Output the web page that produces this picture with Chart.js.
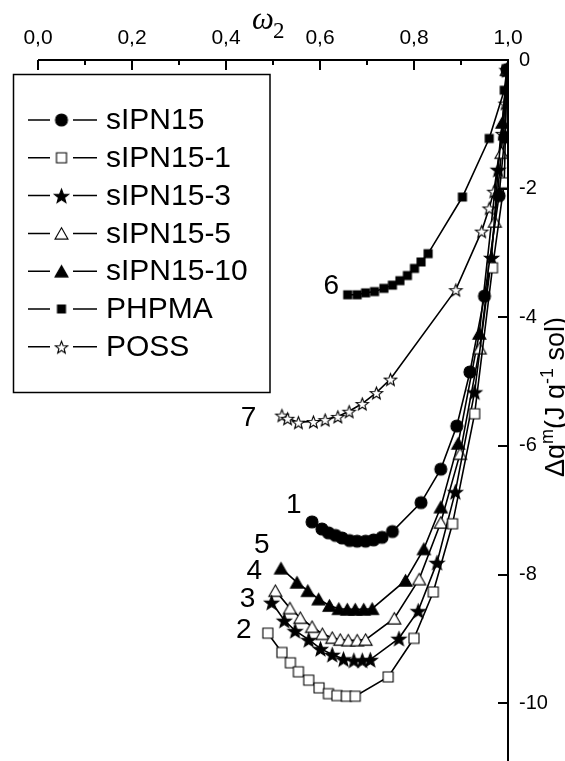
<!DOCTYPE html>
<html>
<head>
<meta charset="utf-8">
<title>Δg^m vs ω2</title>
<script src="https://cdn.jsdelivr.net/npm/chart.js@4.4.0/dist/chart.umd.min.js"></script>
<style>
    html, body { margin: 0; padding: 0; background: #fff; overflow: hidden; }
    #wrap { width: 565px; height: 761px; overflow: hidden; }
    #grafico { display: block; }
</style>
</head>
<body>
<div id="wrap"><canvas id="grafico" width="565" height="771"></canvas></div>
<script>
// Ejes y marcas
const xTicks = [0, 0.2, 0.4, 0.6, 0.8, 1.0];
const xTickLabels = ['0,0', '0,2', '0,4', '0,6', '0,8', '1,0'];
const xMinorTicks = [0.1, 0.3, 0.5, 0.7, 0.9];
const yTicks = [0, -2, -4, -6, -8, -10];
const yTickLabels = ['0', '-2', '-4', '-6', '-8', '-10'];

// Series (omega2, delta g mezcla)
const sipn15X = [0.583, 0.604, 0.618, 0.633, 0.647, 0.663, 0.679, 0.697, 0.714, 0.732, 0.754, 0.815, 0.857, 0.891, 0.919, 0.950, 0.981, 0.993, 0.998];
const sipn15Y = [-7.18, -7.29, -7.35, -7.39, -7.43, -7.47, -7.48, -7.48, -7.46, -7.42, -7.33, -6.88, -6.36, -5.69, -4.85, -3.67, -2.11, -1.20, -0.15];

const sipn15_1X = [0.489, 0.519, 0.537, 0.554, 0.576, 0.598, 0.618, 0.636, 0.656, 0.675, 0.745, 0.800, 0.841, 0.882, 0.929, 0.967, 0.992, 0.998];
const sipn15_1Y = [-8.91, -9.21, -9.37, -9.51, -9.64, -9.76, -9.85, -9.88, -9.89, -9.89, -9.59, -8.99, -8.27, -7.21, -5.50, -3.23, -1.91, -0.15];

const sipn15_3X = [0.497, 0.524, 0.547, 0.576, 0.601, 0.626, 0.650, 0.672, 0.690, 0.707, 0.768, 0.809, 0.849, 0.888, 0.929, 0.965, 0.979, 0.998];
const sipn15_3Y = [-8.43, -8.71, -8.87, -9.01, -9.15, -9.24, -9.31, -9.33, -9.33, -9.32, -8.99, -8.56, -7.81, -6.71, -5.16, -3.07, -1.70, -0.15];

const sipn15_5X = [0.505, 0.536, 0.558, 0.583, 0.605, 0.626, 0.643, 0.660, 0.679, 0.697, 0.758, 0.811, 0.857, 0.898, 0.940, 0.972, 0.986, 0.998];
const sipn15_5Y = [-8.25, -8.52, -8.67, -8.81, -8.92, -8.98, -9.01, -9.02, -9.02, -9.01, -8.68, -8.07, -7.19, -6.12, -4.48, -2.51, -1.44, -0.15];

const sipn15_10X = [0.517, 0.551, 0.574, 0.597, 0.620, 0.640, 0.658, 0.675, 0.693, 0.711, 0.782, 0.821, 0.857, 0.894, 0.939, 0.988, 0.998];
const sipn15_10Y = [-7.90, -8.12, -8.25, -8.38, -8.48, -8.53, -8.54, -8.54, -8.54, -8.53, -8.09, -7.60, -6.95, -5.96, -4.25, -0.97, -0.15];

const phpmaX = [0.659, 0.679, 0.697, 0.716, 0.736, 0.754, 0.770, 0.786, 0.801, 0.815, 0.830, 0.903, 0.960, 0.992, 0.997];
const phpmaY = [-3.65, -3.65, -3.62, -3.60, -3.55, -3.50, -3.43, -3.35, -3.24, -3.14, -3.01, -2.13, -1.22, -0.47, -0.19];

const possX = [0.519, 0.531, 0.554, 0.586, 0.611, 0.638, 0.662, 0.690, 0.720, 0.750, 0.889, 0.944, 0.960, 0.970, 0.988, 0.994];
const possY = [-5.52, -5.57, -5.63, -5.62, -5.59, -5.54, -5.46, -5.34, -5.17, -4.96, -3.57, -2.66, -2.30, -2.04, -1.14, -0.67];

// Números de curva y su posición en unidades de datos
const curveNumbers = ['1', '2', '3', '4', '5', '6', '7'];
const curveNumberX = [0.544, 0.438, 0.446, 0.460, 0.476, 0.624, 0.448];
const curveNumberY = [-6.92, -8.87, -8.38, -7.95, -7.55, -3.52, -5.57];

const FONT = "'Liberation Sans', Arial, sans-serif";
const SERIF = "'Liberation Serif', 'Times New Roman', serif";

// Marcadores dibujados en un canvas aparte (estrellas de 5 puntas, etc.)
function marcador(forma, tam, relleno) {
    const s = Math.ceil(tam + 4);
    const c = document.createElement('canvas');
    c.width = s;
    c.height = s;
    const ctx = c.getContext('2d');
    const m = s / 2, r = tam / 2;
    ctx.beginPath();
    if (forma === 'circulo') {
        ctx.arc(m, m, r, 0, Math.PI * 2);
    } else if (forma === 'cuadrado') {
        ctx.rect(m - r, m - r, tam, tam);
    } else if (forma === 'triangulo') {
        const h = tam * 0.87;
        ctx.moveTo(m, m - h / 2);
        ctx.lineTo(m + r, m + h / 2);
        ctx.lineTo(m - r, m + h / 2);
    } else if (forma === 'estrella') {
        const ri = r * 0.42;
        for (let k = 0; k < 10; k++) {
            const a = -Math.PI / 2 + k * Math.PI / 5;
            const rr = k % 2 ? ri : r;
            const px = m + rr * Math.cos(a), py = m + 1 + rr * Math.sin(a);
            if (k === 0) ctx.moveTo(px, py); else ctx.lineTo(px, py);
        }
    }
    ctx.closePath();
    ctx.fillStyle = relleno ? '#000' : '#fff';
    ctx.fill();
    ctx.lineWidth = 1.1;
    ctx.strokeStyle = '#000';
    ctx.stroke();
    return c;
}

const puntos = (xs, ys) => xs.map((x, i) => ({ x: x, y: ys[i] }));

const serie = (label, xs, ys, img) => ({
    label: label,
    data: puntos(xs, ys),
    showLine: true,
    borderColor: '#000',
    borderWidth: 1.6,
    pointStyle: img,
    pointRadius: 5,
    pointHoverRadius: 5,
    tension: 0,
    fill: false
});

// Leyenda con recuadro, dentro del área del gráfico
const leyendaPlugin = {
    id: 'leyendaCaja',
    afterDraw(chart) {
        const ctx = chart.ctx;
        ctx.save();
        ctx.strokeStyle = '#000';
        ctx.lineWidth = 1.5;
        ctx.strokeRect(13.5, 74.5, 256.5, 318);
        ctx.font = '30px ' + FONT;
        ctx.fillStyle = '#000';
        ctx.textBaseline = 'middle';
        chart.data.datasets.forEach((ds, i) => {
            const y = 120 + i * 37.8;
            ctx.lineWidth = 1.5;
            ctx.beginPath();
            ctx.moveTo(28, y); ctx.lineTo(50, y);
            ctx.moveTo(73, y); ctx.lineTo(97, y);
            ctx.stroke();
            const img = ds.pointStyle;
            ctx.drawImage(img, 61.5 - img.width / 2, y - img.height / 2);
            ctx.fillText(ds.label, 106, y + 1);
        });
        ctx.restore();
    }
};

// Ejes superior y derecho con marcas hacia dentro, títulos y números de curva
const ejesPlugin = {
    id: 'ejes',
    afterDraw(chart) {
        const ctx = chart.ctx;
        const a = chart.chartArea;
        const sx = chart.scales.x, sy = chart.scales.y;
        ctx.save();
        ctx.strokeStyle = '#000';
        ctx.lineWidth = 2;
        ctx.beginPath();
        ctx.moveTo(a.left, a.top); ctx.lineTo(a.right + 1, a.top);
        ctx.moveTo(a.right, a.top); ctx.lineTo(a.right, a.bottom);
        xTicks.forEach(v => {
            const p = Math.round(sx.getPixelForValue(v));
            ctx.moveTo(p, a.top); ctx.lineTo(p, a.top + 10);
        });
        xMinorTicks.forEach(v => {
            const p = Math.round(sx.getPixelForValue(v));
            ctx.moveTo(p, a.top); ctx.lineTo(p, a.top + 5);
        });
        yTicks.forEach(v => {
            const p = Math.round(sy.getPixelForValue(v));
            ctx.moveTo(a.right, p); ctx.lineTo(a.right - 10, p);
        });
        ctx.stroke();

        ctx.fillStyle = '#000';
        // título eje x: omega sub 2
        ctx.textBaseline = 'alphabetic';
        ctx.textAlign = 'left';
        ctx.font = 'italic 31px ' + SERIF;
        ctx.fillText('ω', 252, 29);
        ctx.font = '23px ' + SERIF;
        ctx.fillText('2', 273, 38);

        // título eje y, girado
        ctx.translate(564, 477);
        ctx.rotate(-Math.PI / 2);
        const trozos = [['Δg', 0], ['m', 1], ['(J g', 0], ['-1', 1], [' sol)', 0]];
        let pos = 0;
        trozos.forEach(t => {
            ctx.font = (t[1] ? '18px ' : '27px ') + FONT;
            ctx.fillText(t[0], pos, t[1] ? -11 : 0);
            pos += ctx.measureText(t[0]).width;
        });
        ctx.setTransform(1, 0, 0, 1, 0, 0);

        // números de curva
        ctx.font = '28px ' + FONT;
        ctx.textAlign = 'center';
        ctx.textBaseline = 'middle';
        curveNumbers.forEach((n, i) => {
            ctx.fillText(n, sx.getPixelForValue(curveNumberX[i]), sy.getPixelForValue(curveNumberY[i]));
        });
        ctx.restore();
    }
};

new Chart(document.getElementById('grafico'), {
    type: 'scatter',
    data: {
        datasets: [
            serie('sIPN15', sipn15X, sipn15Y, marcador('circulo', 12, true)),
            serie('sIPN15-1', sipn15_1X, sipn15_1Y, marcador('cuadrado', 10, false)),
            serie('sIPN15-3', sipn15_3X, sipn15_3Y, marcador('estrella', 15, true)),
            serie('sIPN15-5', sipn15_5X, sipn15_5Y, marcador('triangulo', 13, false)),
            serie('sIPN15-10', sipn15_10X, sipn15_10Y, marcador('triangulo', 13, true)),
            serie('PHPMA', phpmaX, phpmaY, marcador('cuadrado', 8, true)),
            serie('POSS', possX, possY, marcador('estrella', 13, false))
        ]
    },
    options: {
        responsive: false,
        animation: false,
        layout: { padding: { left: 38, right: 0, top: 0, bottom: 0 } },
        plugins: { legend: { display: false }, tooltip: { enabled: false } },
        scales: {
            x: {
                type: 'linear',
                position: 'top',
                min: 0,
                max: 1,
                afterBuildTicks: s => { s.ticks = xTicks.map(v => ({ value: v })); },
                afterFit: s => { s.height = 60; s.paddingLeft = 0; s.paddingRight = 0; },
                grid: { display: false, drawTicks: false },
                border: { display: false },
                ticks: {
                    padding: 9,
                    color: '#000',
                    font: { family: FONT, size: 21 },
                    callback: (v, i) => xTickLabels[i]
                }
            },
            y: {
                type: 'linear',
                position: 'right',
                min: -10.95,
                max: 0,
                afterBuildTicks: s => { s.ticks = yTicks.map(v => ({ value: v })); },
                afterFit: s => { s.width = 57; s.paddingTop = 0; s.paddingBottom = 0; },
                grid: { display: false, drawTicks: false },
                border: { display: false },
                ticks: {
                    padding: 11,
                    color: '#000',
                    font: { family: FONT, size: 20 },
                    callback: (v, i) => yTickLabels[i]
                }
            }
        }
    },
    plugins: [leyendaPlugin, ejesPlugin]
});
</script>
</body>
</html>
